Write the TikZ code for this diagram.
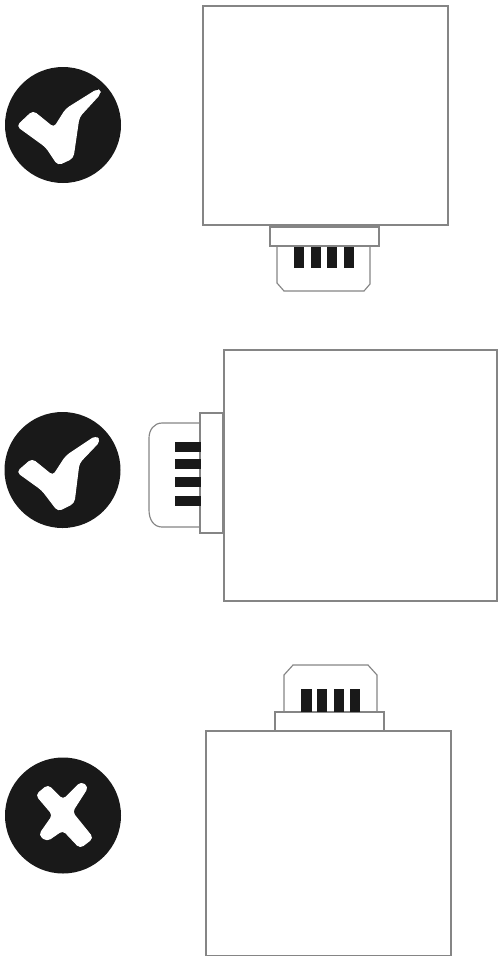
\documentclass[tikz,border=0pt]{standalone}
\tikzset{
  outline/.style={draw=black!48,line width=1.15pt,fill=white},
  pin/.style={fill=black!90,draw=none},
  badge/.style={fill=black!90,draw=none},
  glyph/.style={fill=white,draw=white,line width=1pt,line join=round,rounded corners=4pt}
}
\begin{document}
\begin{tikzpicture}[x=1pt,y=-1pt]
\useasboundingbox (0,0) rectangle (498,956);
% Row 1
\fill[badge] (63,125) circle (58);
\path[glyph] (17,126) -- (33,111) -- (54,128) -- (66,109) -- (98,89) -- (101,93) -- (79,117) -- (73,158) -- (58,165) -- (46,147) -- cycle;
\draw[outline] (203,6) rectangle (448,225);
\draw[outline] (277,246) -- (277,283) -- (284,291) -- (364,291) -- (370,284) -- (370,246);
\draw[outline] (270,227) rectangle (379,246);
\foreach \a/\b in {293.5/303.5,310.5/320.5,327/337,343.5/353.5}
  \fill[pin] (\a,247) rectangle (\b,268);
% Row 2
\fill[badge] (62.5,470) circle (58);
\path[glyph] (17,472) -- (32,459) -- (53,476) -- (66,456) -- (96,436) -- (100,441) -- (79,463) -- (74,503) -- (58,511) -- (42,490) -- cycle;
\draw[outline] (224,350) rectangle (497,601);
\draw[outline] (200,423) -- (162,423) .. controls (154,423) and (149,430) .. (149,438) -- (149,510) .. controls (149,520) and (154,527) .. (162,527) -- (200,527);
\draw[outline] (200,413) rectangle (223,533);
\foreach \a/\b in {441.5/451.5,459/469,477/487,495.5/506}
  \fill[pin] (175,\a) rectangle (201,\b);
% Row 3
\fill[badge] (63,815.5) circle (58);
\path[glyph] (36,795) -- (48,785) -- (63,800) -- (81,782) -- (88,787) -- (72,812) -- (93,838) -- (80,848) -- (63,830) -- (47,841) -- (39,835) -- (53,815) -- cycle;
\draw[outline] (206,731) rectangle (451,955.4);
\draw[outline] (284,712) -- (284,675) -- (293,665) -- (368,665) -- (377,675) -- (377,712);
\draw[outline] (275,712) rectangle (384,731);
\foreach \a/\b in {300.5/312,317/327,333.5/343.5,350/360}
  \fill[pin] (\a,689) rectangle (\b,712);
\end{tikzpicture}
\end{document}
